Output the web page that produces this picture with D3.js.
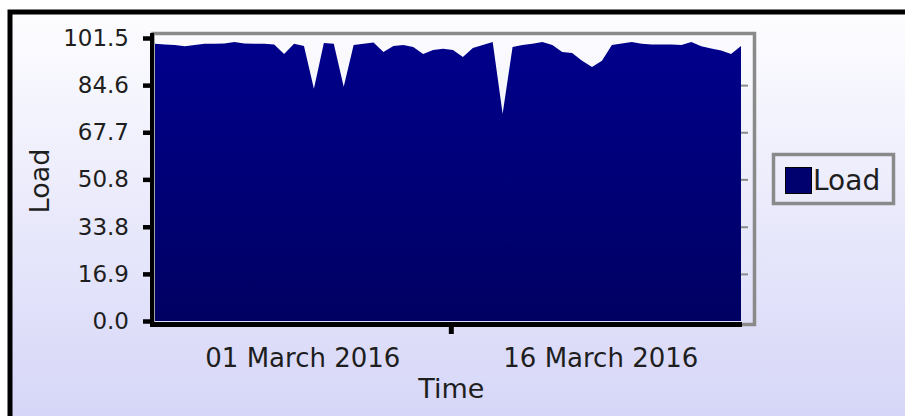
<!DOCTYPE html>
<html>
<head>
<meta charset="utf-8">
<script src="https://cdn.jsdelivr.net/npm/d3@7"></script>
<style>
  body { margin: 0; background: #fff; }
  text { font-family: "DejaVu Sans", sans-serif; fill: #1e1e1e; }
</style>
</head>
<body>
<script>
// load readings, one every 12 hours
var times = [
  "2016-02-22 14:00", "2016-02-23 02:00", "2016-02-23 14:00", "2016-02-24 02:00",
  "2016-02-24 14:00", "2016-02-25 02:00", "2016-02-25 14:00", "2016-02-26 02:00",
  "2016-02-26 14:00", "2016-02-27 02:00", "2016-02-27 14:00", "2016-02-28 02:00",
  "2016-02-28 14:00", "2016-02-29 02:00", "2016-02-29 14:00", "2016-03-01 02:00",
  "2016-03-01 14:00", "2016-03-02 02:00", "2016-03-02 14:00", "2016-03-03 02:00",
  "2016-03-03 14:00", "2016-03-04 02:00", "2016-03-04 14:00", "2016-03-05 02:00",
  "2016-03-05 14:00", "2016-03-06 02:00", "2016-03-06 14:00", "2016-03-07 02:00",
  "2016-03-07 14:00", "2016-03-08 02:00", "2016-03-08 14:00", "2016-03-09 02:00",
  "2016-03-09 14:00", "2016-03-10 02:00", "2016-03-10 14:00", "2016-03-11 02:00",
  "2016-03-11 14:00", "2016-03-12 02:00", "2016-03-12 14:00", "2016-03-13 02:00",
  "2016-03-13 14:00", "2016-03-14 02:00", "2016-03-14 14:00", "2016-03-15 02:00",
  "2016-03-15 14:00", "2016-03-16 02:00", "2016-03-16 14:00", "2016-03-17 02:00",
  "2016-03-17 14:00", "2016-03-18 02:00", "2016-03-18 14:00", "2016-03-19 02:00",
  "2016-03-19 14:00", "2016-03-20 02:00", "2016-03-20 14:00", "2016-03-21 02:00",
  "2016-03-21 14:00", "2016-03-22 02:00", "2016-03-22 14:00", "2016-03-23 02:00"
];

var loads = [
  99.4, 99.2, 99.0, 98.5, 99.0, 99.4, 99.4, 99.5, 100.1, 99.5,
  99.4, 99.4, 99.2, 95.8, 99.4, 98.6, 83.3, 99.7, 99.4, 84.0,
  99.0, 99.4, 99.9, 96.5, 98.6, 99.0, 98.3, 95.8, 97.2, 97.6,
  97.2, 94.7, 97.9, 99.0, 100.1, 74.3, 98.3, 99.0, 99.4, 100.1,
  99.0, 96.5, 96.1, 93.3, 91.1, 93.3, 99.0, 99.5, 100.1, 99.4,
  99.2, 99.2, 99.2, 99.0, 100.1, 98.5, 97.7, 97.0, 95.8, 98.6
];

var yTicks = [0.0, 16.9, 33.8, 50.8, 67.7, 84.6, 101.5];
var xTickDates = ["2016-03-01 00:00", "2016-03-16 00:00"];
var xTickLabels = ["01 March 2016", "16 March 2016"];
var xMidTick = "2016-03-08 12:00";
var seriesName = "Load";

var width = 905,
  height = 416;

var parseTime = d3.timeParse("%Y-%m-%d %H:%M");
var data = times.map(function (t, i) {
  return { time: parseTime(t), load: loads[i] };
});

var svg = d3.select("body").append("svg")
  .attr("width", width)
  .attr("height", height);

var defs = svg.append("defs");

var bg = defs.append("linearGradient")
  .attr("id", "bg").attr("x1", 0).attr("y1", 0).attr("x2", 0).attr("y2", 1);
bg.append("stop").attr("offset", "0%").attr("stop-color", "#fdfdff");
bg.append("stop").attr("offset", "100%").attr("stop-color", "#d6d6f8");

var fillGrad = defs.append("linearGradient")
  .attr("id", "fillGrad").attr("gradientUnits", "userSpaceOnUse")
  .attr("x1", 0).attr("y1", 38).attr("x2", 0).attr("y2", 321);
fillGrad.append("stop").attr("offset", "0%").attr("stop-color", "#00008c");
fillGrad.append("stop").attr("offset", "100%").attr("stop-color", "#000062");

// page background + black frame on top/left
svg.append("rect")
  .attr("x", 10).attr("y", 12)
  .attr("width", width - 10).attr("height", height - 12)
  .attr("fill", "url(#bg)");
svg.append("path")
  .attr("d", "M10," + height + "V12H" + width)
  .attr("fill", "none")
  .attr("stroke", "#000")
  .attr("stroke-width", 5);

var x = d3.scaleTime()
  .domain(d3.extent(data, function (d) { return d.time; }))
  .range([155, 741]);

var y = d3.scaleLinear()
  .domain([0, 101.5])
  .range([321, 38]);

// plot frame
svg.append("rect")
  .attr("x", 153).attr("y", 33.5)
  .attr("width", 601.5).attr("height", 291)
  .attr("fill", "none")
  .attr("stroke", "#8a8a8a")
  .attr("stroke-width", 3.5);

//------- AREA -------
var area = d3.area()
  .x(function (d) { return x(d.time); })
  .y0(y(0))
  .y1(function (d) { return y(d.load); });

svg.append("path")
  .datum(data)
  .attr("d", area)
  .attr("fill", "url(#fillGrad)");

//------- AXES -------
var yAxis = svg.append("g")
  .attr("transform", "translate(152,0)")
  .call(d3.axisLeft(y).tickValues(yTicks).tickSize(9).tickPadding(14)
    .tickFormat(d3.format(".1f")));
yAxis.select(".domain").remove();
yAxis.selectAll(".tick line").attr("stroke", "#000").attr("stroke-width", 4.5);
yAxis.selectAll(".tick text").style("font-size", "23px").attr("fill", "#1e1e1e");

// faint mirror ticks on the right
var yRight = svg.append("g")
  .attr("transform", "translate(741,0)")
  .call(d3.axisRight(y).tickValues(yTicks.slice(1, -1)).tickSize(7).tickFormat(""));
yRight.select(".domain").remove();
yRight.selectAll(".tick line").attr("stroke", "#8a8a8a").attr("stroke-width", 2);

svg.append("line")
  .attr("x1", 152).attr("x2", 152)
  .attr("y1", 33).attr("y2", 327)
  .attr("stroke", "#000").attr("stroke-width", 4);
svg.append("line")
  .attr("x1", 150).attr("x2", 742)
  .attr("y1", 324.5).attr("y2", 324.5)
  .attr("stroke", "#000").attr("stroke-width", 5);

var xAxis = svg.append("g")
  .attr("transform", "translate(0,326)")
  .call(d3.axisBottom(x)
    .tickValues(xTickDates.map(parseTime))
    .tickSize(0).tickPadding(23)
    .tickFormat(function (d, i) { return xTickLabels[i]; }));
xAxis.select(".domain").remove();
xAxis.selectAll(".tick text").style("font-size", "26px").attr("fill", "#1e1e1e");

svg.append("line")
  .attr("x1", x(parseTime(xMidTick))).attr("x2", x(parseTime(xMidTick)))
  .attr("y1", 326).attr("y2", 334)
  .attr("stroke", "#000").attr("stroke-width", 5);

svg.append("text")
  .attr("x", x(parseTime(xMidTick)))
  .attr("y", 398)
  .attr("text-anchor", "middle")
  .style("font-size", "27px")
  .text("Time");

svg.append("text")
  .attr("transform", "translate(49,181) rotate(-90)")
  .attr("text-anchor", "middle")
  .style("font-size", "27px")
  .text("Load");

//------- LEGEND -------
var legend = svg.append("g");
legend.append("rect")
  .attr("x", 773.5).attr("y", 154.5)
  .attr("width", 120).attr("height", 49)
  .attr("fill", "none")
  .attr("stroke", "#8a8a8a")
  .attr("stroke-width", 3.5);
legend.append("rect")
  .attr("x", 785.5).attr("y", 167.5)
  .attr("width", 26).attr("height", 26)
  .attr("fill", "#00006e")
  .attr("stroke", "#000");
legend.append("text")
  .attr("x", 813)
  .attr("y", 190)
  .style("font-size", "28px")
  .text(seriesName);
</script>
</body>
</html>
